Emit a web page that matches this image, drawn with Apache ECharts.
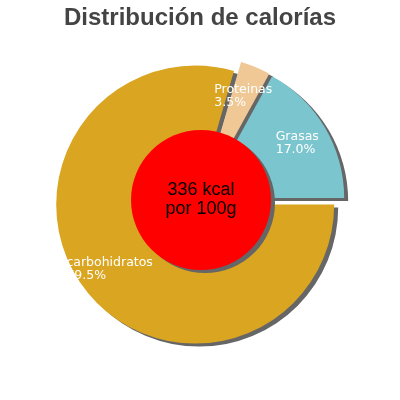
<!DOCTYPE html>
<html>
<head>
<meta charset="utf-8">
<script src="https://cdn.jsdelivr.net/npm/echarts@6/dist/echarts.min.js"></script>
<style>html,body{margin:0;padding:0;background:#fff;}#c{width:400px;height:400px;}</style>
</head>
<body>
<div id="c"></div>
<script>
const titleText = 'Distribución de calorías';
const categories = ['carbohidratos', 'Proteinas', 'Grasas'];
const percents = [79.5, 3.5, 17.0];
const colors = ['#DAA520', '#F0C896', '#7AC5CE'];
const energyLines = ['336 kcal', 'por 100g'];

const chart = echarts.init(document.getElementById('c'));
const pieCenter = [200, 201];
const shadow = { shadowColor: '#666', shadowBlur: 0, shadowOffsetX: 4, shadowOffsetY: 3 };

const sliceData = categories.map((n, i) => ({
  name: n, value: percents[i], selected: true,
  itemStyle: Object.assign({ color: colors[i] }, shadow)
}));
const labelData = categories.map((n, i) => ({
  name: n, value: percents[i], selected: true,
  itemStyle: { color: 'rgba(0,0,0,0)' }
}));

chart.setOption({
  animation: false,
  title: {
    text: titleText, left: 'center', top: 1,
    textStyle: { fontFamily: 'Liberation Sans', fontWeight: 'bold', fontSize: 24, color: '#444' }
  },
  series: [
    {
      type: 'pie', z: 2, silent: true, center: pieCenter, radius: [0, 139],
      startAngle: 0, clockwise: true, selectedMode: 'multiple', selectedOffset: 6,
      label: { show: false }, labelLine: { show: false },
      emphasis: { disabled: true },
      data: sliceData
    },
    {
      type: 'pie', z: 4, silent: true, center: pieCenter, radius: [69, 139],
      startAngle: 0, clockwise: true, selectedMode: 'multiple', selectedOffset: 6,
      labelLine: { show: false },
      emphasis: { disabled: true },
      label: {
        show: true, position: 'inside',
        formatter: p => '{a|' + p.name + '}\n{a|' + p.value.toFixed(1) + '%}',
        rich: { a: { align: 'left', color: '#fff', fontSize: 12.5, lineHeight: 13, fontFamily: 'DejaVu Sans' } }
      },
      data: labelData
    },
    {
      type: 'pie', z: 3, silent: true, center: [201, 200], radius: [0, 70],
      label: {
        show: true, position: 'center',
        formatter: energyLines.join('\n'),
        color: '#000', fontSize: 18, lineHeight: 19, fontFamily: 'Liberation Sans'
      },
      labelLine: { show: false },
      emphasis: { disabled: true },
      data: [{ name: 'kcal', value: 1, itemStyle: Object.assign({ color: '#FF0000' }, shadow) }]
    }
  ]
});
</script>
</body>
</html>
